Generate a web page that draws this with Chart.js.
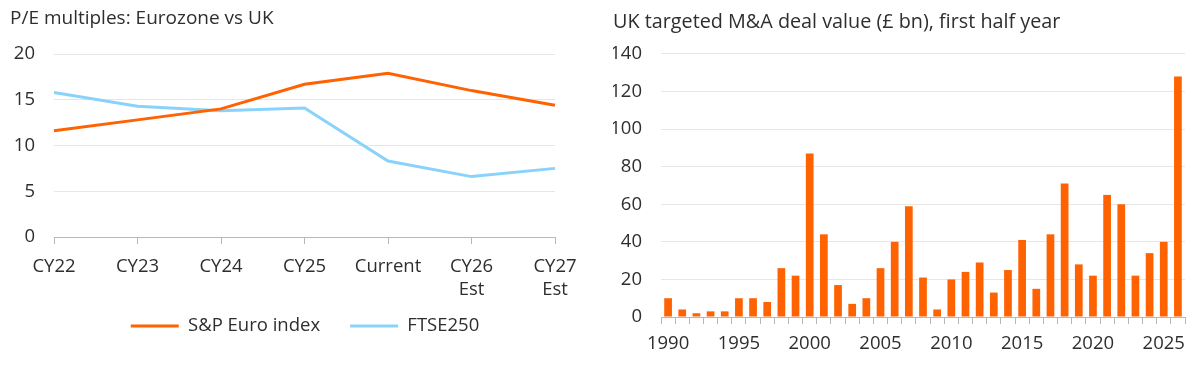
<!DOCTYPE html>
<html><head><meta charset="utf-8">
<script src="https://cdn.jsdelivr.net/npm/chart.js@4"></script>
<style>
html,body{margin:0;padding:0;background:#fff;}
#wrap{position:relative;width:1200px;height:367px;overflow:hidden;}
canvas{position:absolute;top:0;}
</style></head><body>
<div id="wrap">
<canvas id="c1" width="600" height="367" style="left:0"></canvas>
<canvas id="c2" width="600" height="367" style="left:600px"></canvas>
</div>
<script>
// ---- Left chart data ----
const peCategories = [['CY22'], ['CY23'], ['CY24'], ['CY25'], ['Current'], ['CY26', 'Est'], ['CY27', 'Est']];
const euroIndex = [11.6, 12.8, 14.0, 16.7, 17.9, 16.0, 14.4];
const ftse250 = [15.8, 14.3, 13.8, 14.1, 8.3, 6.6, 7.5];
const peTicks = [0, 5, 10, 15, 20];

// ---- Right chart data ----
const years = [1990, 1991, 1992, 1993, 1994, 1995, 1996, 1997, 1998, 1999,
  2000, 2001, 2002, 2003, 2004, 2005, 2006, 2007, 2008, 2009,
  2010, 2011, 2012, 2013, 2014, 2015, 2016, 2017, 2018, 2019,
  2020, 2021, 2022, 2023, 2024, 2025, 2026];
const dealValue = [10, 4, 2, 3, 3, 10, 10, 8, 26, 22,
  87, 44, 17, 7, 10, 26, 40, 59, 21, 4,
  20, 24, 29, 13, 25, 41, 15, 44, 71, 28,
  22, 65, 60, 22, 34, 40, 128];
const yearTickLabels = [1990, 1995, 2000, 2005, 2010, 2015, 2020, 2025];
const dealTicks = [0, 20, 40, 60, 80, 100, 120, 140];

const ORANGE = '#FF6200';
const BLUE = '#89D3FA';
const TEXT = '#2e2e2e';
const GRID = '#e6e6e6';
const AXIS = '#b8b8b8';

Chart.defaults.font.family = "'Open Sans', 'Noto Sans', sans-serif";
Chart.defaults.font.size = 18.5;
Chart.defaults.color = TEXT;

// keep two-line x labels from being clipped and centre the legend on the whole panel
const layoutTweak = {
  id: 'layoutTweak',
  afterLayout(chart) {
    if (chart.scales.x) chart.scales.x.bottom = chart.height;
    if (chart.legend && chart.options.plugins.legend.display !== false && chart.canvas.id === 'c1') {
      chart.legend.left = 10;
      chart.legend.right = 600;
      chart.legend.width = 590;
    }
  }
};

new Chart(document.getElementById('c1'), {
  type: 'line',
  data: {
    labels: peCategories,
    datasets: [
      { label: 'S&P Euro index', data: euroIndex, borderColor: ORANGE, backgroundColor: ORANGE, borderWidth: 3, pointRadius: 0, tension: 0 },
      { label: 'FTSE250', data: ftse250, borderColor: BLUE, backgroundColor: BLUE, borderWidth: 3, pointRadius: 0, tension: 0 }
    ]
  },
  plugins: [layoutTweak],
  options: {
    responsive: false,
    animation: false,
    layout: { padding: { left: 10, right: 45, top: 0, bottom: 21.75 } },
    plugins: {
      title: {
        display: true, text: 'P/E multiples: Eurozone vs UK', align: 'start', color: TEXT,
        font: { size: 19, weight: 'normal' }, padding: { top: 7, bottom: 24.2 }
      },
      legend: {
        position: 'bottom',
        labels: {
          boxWidth: 48, boxHeight: 3, padding: 30, color: TEXT,
          generateLabels(chart) {
            return Chart.defaults.plugins.legend.labels.generateLabels(chart).map(l => Object.assign(l, { lineWidth: 0 }));
          }
        }
      },
      tooltip: { enabled: false }
    },
    scales: {
      x: {
        grid: { drawOnChartArea: false, tickLength: 7, color: AXIS },
        border: { color: AXIS },
        ticks: { padding: 11, maxRotation: 0, autoSkip: false, font: { lineHeight: 1.24 } },
        afterFit(s) { s.height = 49.75; }
      },
      y: {
        min: 0, max: 20,
        afterBuildTicks(s) { s.ticks = peTicks.map(v => ({ value: v })); },
        ticks: { padding: 19 },
        grid: { color: GRID, drawTicks: false },
        border: { display: false },
        afterFit(s) { s.width = 44; }
      }
    }
  }
});

new Chart(document.getElementById('c2'), {
  type: 'bar',
  data: {
    labels: years,
    datasets: [{ label: 'Deal value', data: dealValue, backgroundColor: ORANGE, barPercentage: 0.545, categoryPercentage: 1 }]
  },
  plugins: [layoutTweak],
  options: {
    responsive: false,
    animation: false,
    layout: { padding: { left: 13, right: 15, top: 0, bottom: 0 } },
    plugins: {
      title: {
        display: true, text: 'UK targeted M&A deal value (£ bn), first half year', align: 'start', color: TEXT,
        font: { size: 19.8, weight: 'normal' }, padding: { top: 10.1, bottom: 20.1 }
      },
      legend: { display: false },
      tooltip: { enabled: false }
    },
    scales: {
      x: {
        offset: true,
        grid: { drawOnChartArea: false, tickLength: 7, color: AXIS, offset: true },
        border: { color: AXIS },
        ticks: {
          autoSkip: false, maxRotation: 0, padding: 9, font: { lineHeight: 1.2 },
          callback(v, i) { return yearTickLabels.includes(years[i]) ? String(years[i]) : ''; }
        },
        afterFit(s) { s.height = 50; }
      },
      y: {
        min: 0, max: 140,
        afterBuildTicks(s) { s.ticks = dealTicks.map(v => ({ value: v })); },
        ticks: { padding: 19 },
        grid: { color: GRID, drawTicks: false },
        border: { display: false },
        afterFit(s) { s.width = 48; }
      }
    }
  }
});
</script>
</body></html>
